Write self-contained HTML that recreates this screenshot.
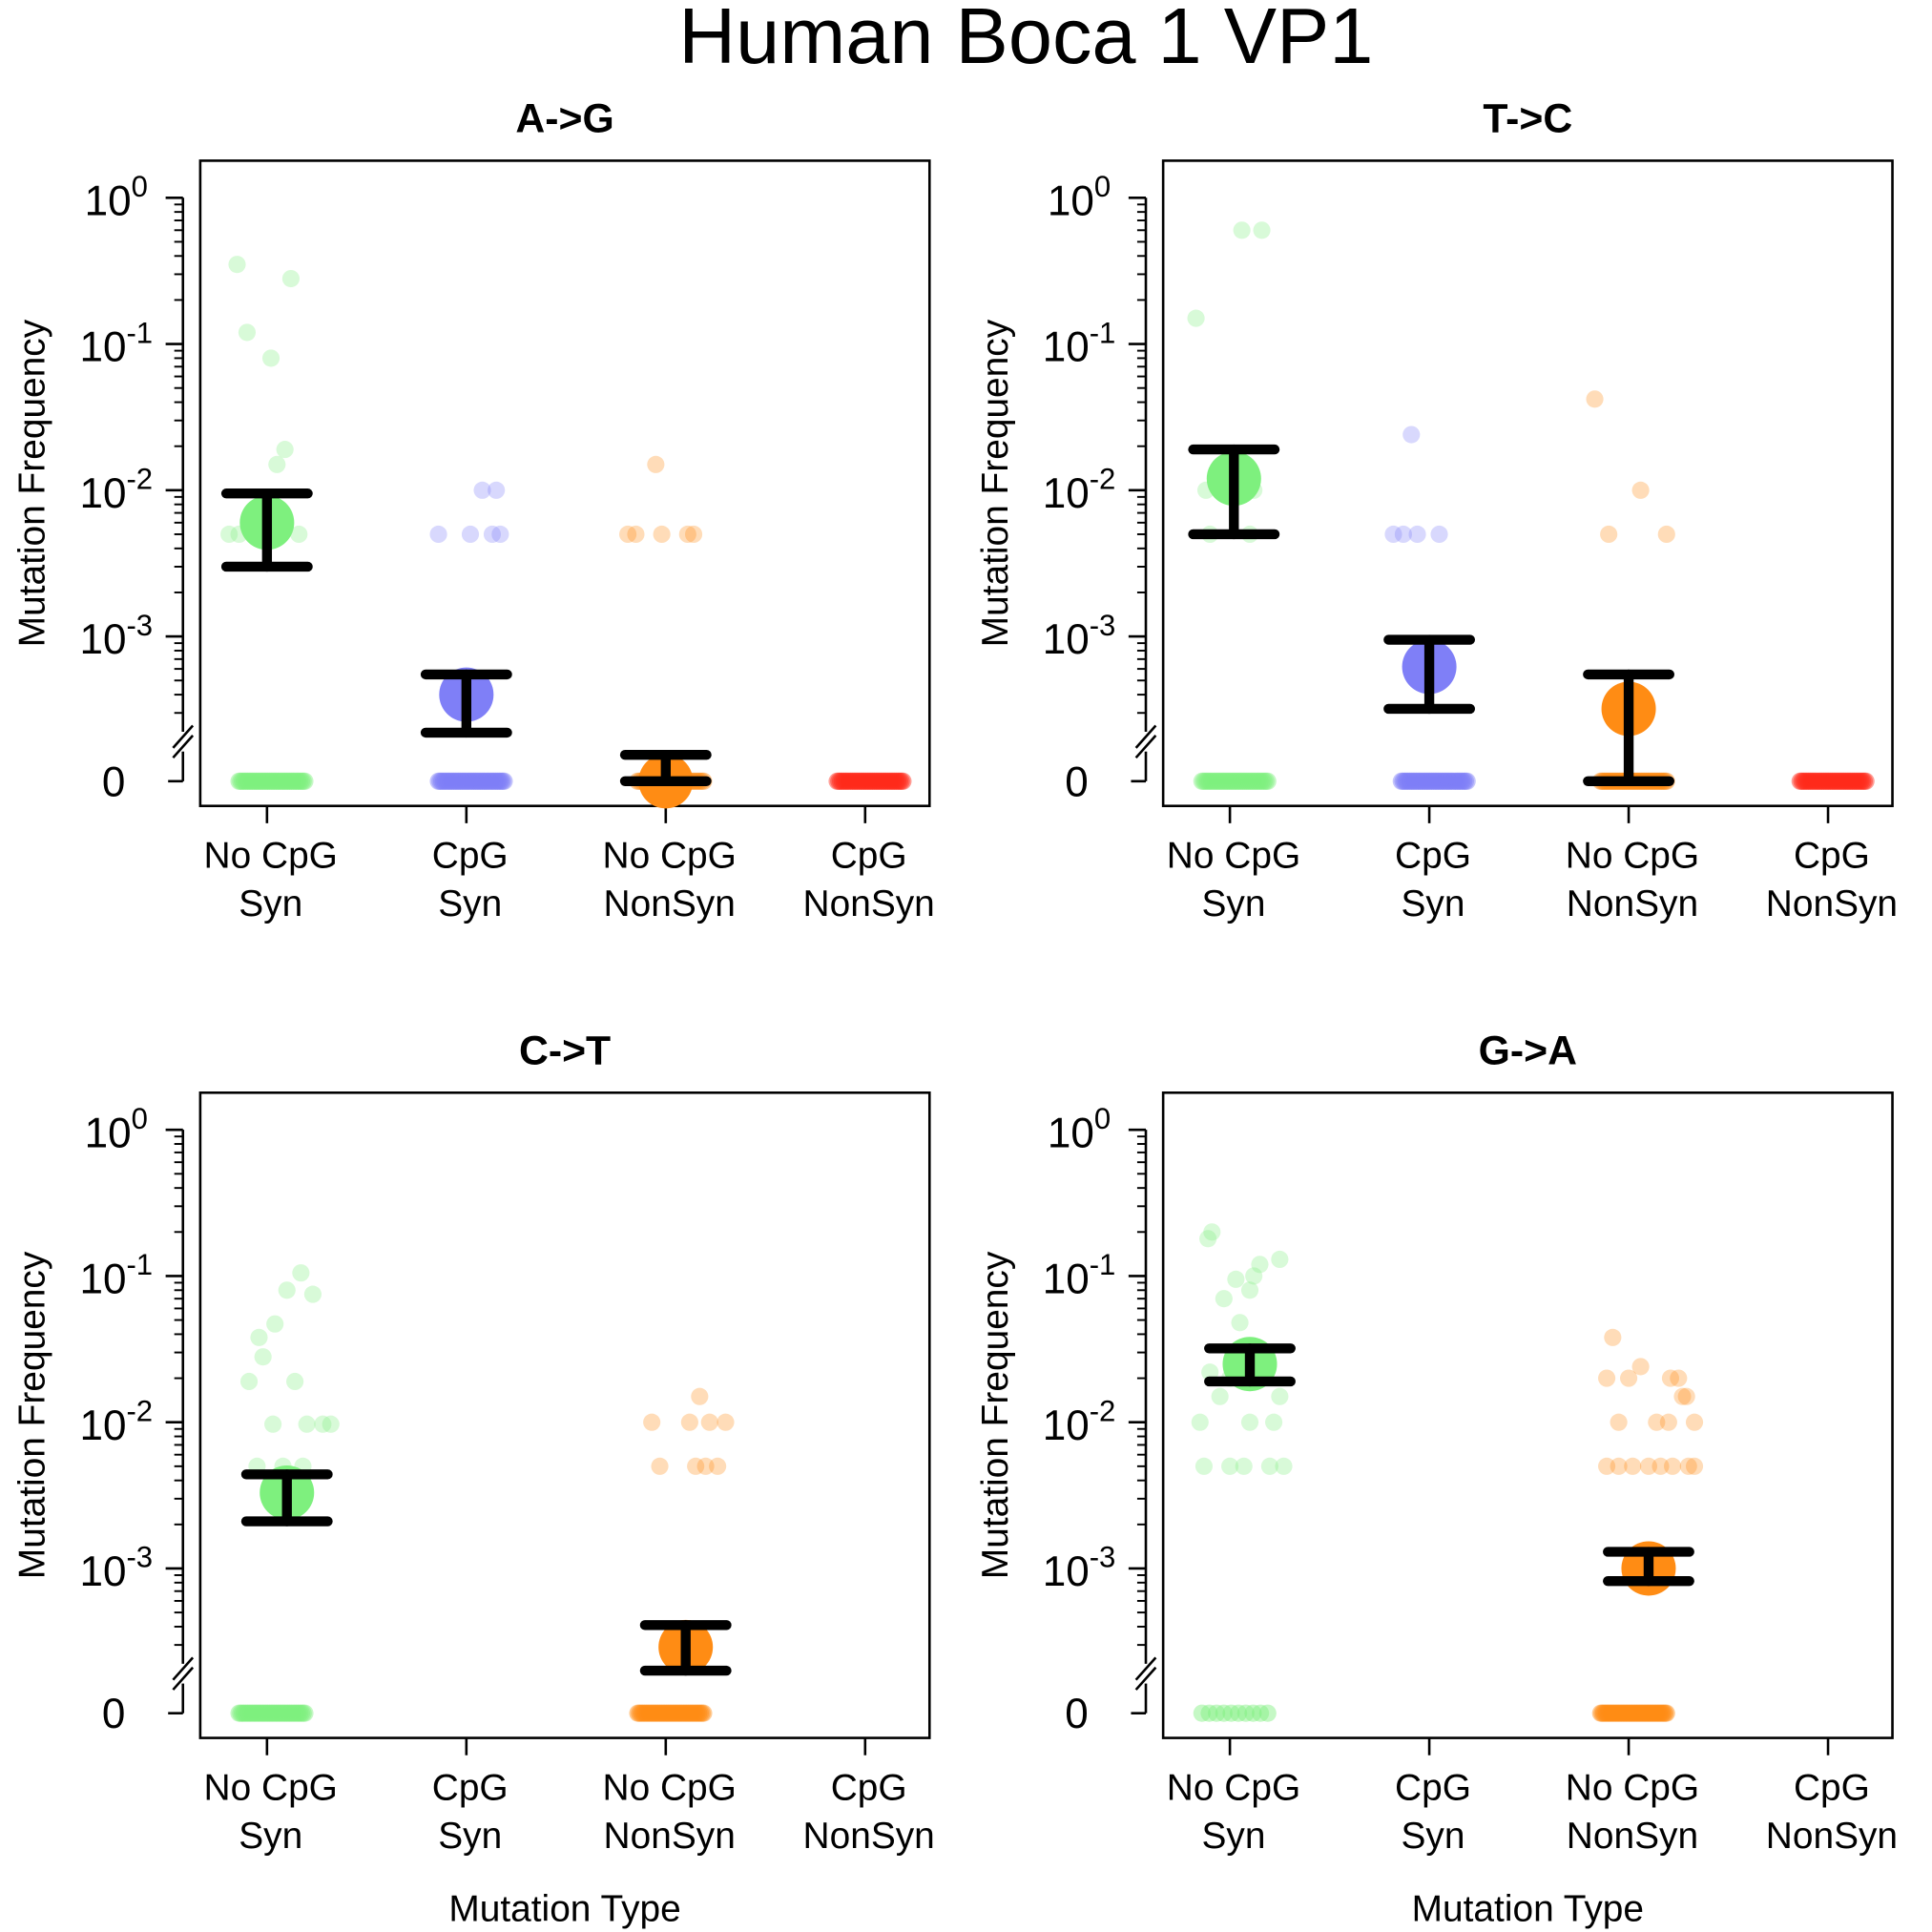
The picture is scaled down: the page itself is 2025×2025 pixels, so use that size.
<!DOCTYPE html>
<html><head><meta charset="utf-8">
<style>
html,body{margin:0;padding:0;background:#fff;}
svg{display:block;font-family:"Liberation Sans",Arial,sans-serif;}
</style></head>
<body>
<svg id="chart" width="2025" height="2025" viewBox="0 0 1563 1563" xmlns="http://www.w3.org/2000/svg">
<text x="830" y="51" font-size="64" text-anchor="middle">Human Boca 1 VP1</text>
</svg>
<script>
// ---- data ----
const categories = ["No CpG|Syn","CpG|Syn","No CpG|NonSyn","CpG|NonSyn"];
const panelTitles = ["A->G","T->C","C->T","G->A"];
const tickExps = [0,-1,-2,-3];
const ptVals = [
 [[0.35,0.12,0.08,0.28,0.019,0.015,0.005,0.005,0.005],[0.005,0.005,0.005,0.005,0.01,0.01],[0.015,0.005,0.005,0.005,0.005,0.005],[]],
 [[0.6,0.6,0.15,0.01,0.01,0.01,0.005,0.005],[0.024,0.005,0.005,0.005,0.005],[0.042,0.01,0.005,0.005],[]],
 [[0.105,0.08,0.075,0.038,0.047,0.028,0.019,0.019,0.0097,0.0097,0.0097,0.0097,0.005,0.005,0.005],[],[0.015,0.01,0.01,0.01,0.01,0.005,0.005,0.005,0.005],[]],
 [[0.2,0.18,0.13,0.12,0.095,0.1,0.08,0.07,0.048,0.022,0.02,0.015,0.015,0.01,0.01,0.01,0.005,0.005,0.005,0.005,0.005],[],[0.038,0.024,0.02,0.02,0.02,0.02,0.015,0.015,0.01,0.01,0.01,0.01,0.005,0.005,0.005,0.005,0.005,0.005,0.005,0.005],[]]
];
const ptJit = [
 [[-0.15,-0.1,0.02,0.12,0.09,0.05,-0.19,-0.14,0.16],[-0.14,0.02,0.13,0.17,0.08,0.15],[-0.05,-0.19,-0.15,-0.02,0.11,0.14],[]],
 [[0.06,0.16,-0.17,-0.12,0.05,0.12,-0.1,0.1],[-0.09,-0.18,-0.13,-0.06,0.05],[-0.17,0.06,-0.1,0.19],[]],
 [[0.17,0.1,0.23,-0.04,0.04,-0.02,-0.09,0.14,0.03,0.2,0.28,0.32,-0.05,0.08,0.18],[],[0.17,-0.07,0.12,0.22,0.3,-0.03,0.15,0.2,0.26],[]],
 [[-0.09,-0.11,0.25,0.15,0.03,0.12,0.1,-0.03,0.05,-0.1,0.0,-0.05,0.25,-0.15,0.1,0.22,-0.13,0.0,0.07,0.2,0.27],[],[-0.08,0.06,-0.11,0.0,0.21,0.25,0.27,0.29,-0.05,0.14,0.2,0.33,-0.11,-0.05,0.02,0.1,0.16,0.22,0.3,0.33],[]]
];
const zeroCounts = [[40,40,30,40],[35,40,40,40],[40,0,40,0],[10,0,45,0]];
const means = [[0.006,0.0004,0,null],[0.012,0.00062,0.00032,null],[0.0033,null,0.00029,null],[0.025,null,0.001,null]];
const ciLow = [[0.003,0.00022,0,null],[0.005,0.00032,0,null],[0.0021,null,0.0002,null],[0.019,null,0.00082,null]];
const ciHigh = [[0.0095,0.00055,0.000155,null],[0.019,0.00095,0.00055,null],[0.0044,null,0.00041,null],[0.032,null,0.0013,null]];
const meanShift = [[0,0,0,0],[0.02,0,0,0],[0.1,0,0.1,0],[0.1,0,0.1,0]];
const colors = ["#7ef07e","#7f7ff7","#ff8c14","#ff2a1a"];
// ---- layout ----
const svg = document.getElementById('chart');
const NS = "http://www.w3.org/2000/svg";
function mk(tag, attrs, parent){const e=document.createElementNS(NS,tag);for(const k in attrs)e.setAttribute(k,attrs[k]);(parent||svg).appendChild(e);return e;}
const panels=[{x:162,y:130},{x:941,y:130},{x:162,y:884},{x:941,y:884}];
const W=590,H=522;
panels.forEach((p,pi)=>{
  const g=mk('g',{});
  
  
  const yTop=p.y+30, dec=118.3, yZero=p.y+502;
  const ys=v=> v<=1e-4 ? yZero : yTop - Math.log10(v)*dec;
  const xs=i=> p.x+54+i*161.3;
  const t=mk('text',{x:p.x+295,y:p.y-23,'font-size':33,'font-weight':'bold','text-anchor':'middle'},g);
  t.textContent=panelTitles[pi];
  
  
  const box=mk('rect',{x:p.x,y:p.y,width:W,height:H,fill:'none',stroke:'#000','stroke-width':2},g);
  
  
  const ax=p.x-14;
  mk('line',{x1:ax,y1:yTop,x2:ax,y2:p.y+462,stroke:'#000','stroke-width':2},g);
  mk('line',{x1:ax-8,y1:p.y+475,x2:ax+8,y2:p.y+457,stroke:'#000','stroke-width':2},g);
  mk('line',{x1:ax-8,y1:p.y+483,x2:ax+8,y2:p.y+465,stroke:'#000','stroke-width':2},g);
  mk('line',{x1:ax,y1:p.y+478,x2:ax,y2:yZero,stroke:'#000','stroke-width':2},g);
  mk('line',{x1:ax,y1:yZero,x2:ax-12,y2:yZero,stroke:'#000','stroke-width':2},g);
  const z=mk('text',{x:p.x-70,y:yZero+12,'font-size':34,'text-anchor':'middle'},g);z.textContent='0';
  
  
  tickExps.forEach(e=>{
    const y=ys(Math.pow(10,e));
    mk('line',{x1:ax,y1:y,x2:ax-14,y2:y,stroke:'#000','stroke-width':2},g);
    for(let m=2;m<=9;m++){const v=m*Math.pow(10,e-1);const yy=ys(v);if(yy>p.y+460)continue;
      mk('line',{x1:ax,y1:yy,x2:ax-7,y2:yy,stroke:'#000','stroke-width':1.5},g);}
    const tl=mk('text',{x:p.x-68,y:y+14,'font-size':34,'text-anchor':'middle'},g);
    
    
    tl.innerHTML='10<tspan dy="-15" font-size="24">'+e+'</tspan>';
  });
  const yl=mk('text',{x:0,y:0,'font-size':30,'text-anchor':'middle',transform:`translate(${p.x-126},${p.y+261}) rotate(-90)`},g);
  yl.textContent='Mutation Frequency';
  
  
  categories.forEach((c,ci)=>{
    const x=xs(ci);
    mk('line',{x1:x,y1:p.y+H,x2:x,y2:p.y+H+14,stroke:'#000','stroke-width':2},g);
    const parts=c.split('|');
    parts.forEach((s,si)=>{const tt=mk('text',{x:x+3,y:p.y+H+50+si*39,'font-size':30,'text-anchor':'middle'},g);tt.textContent=s;
      
      });
    const n=zeroCounts[pi][ci];
    for(let k=0;k<n;k++){const dx=-0.3+0.6*(n>1?k/(n-1):0.5);
      const d=mk('circle',{cx:x+dx*161.3*0.55+4,cy:yZero,r:7,fill:colors[ci],'fill-opacity':0.45},g);
      
      }
    ptVals[pi][ci].forEach((v,k)=>{
      const d=mk('circle',{cx:x+ptJit[pi][ci][k]*161.3,cy:ys(v),r:7,fill:colors[ci],'fill-opacity':0.3},g);
      
      
    });
    const mv=means[pi][ci];
    if(mv!==null){
      const mx=x+meanShift[pi][ci]*161.3;
      const mc=mk('circle',{cx:mx,cy:ys(mv),r:22,fill:colors[ci]},g);
      
      
      const y1=ys(ciLow[pi][ci]), y2=ys(ciHigh[pi][ci]);
      const eb=mk('g',{stroke:'#000','stroke-width':8,'stroke-linecap':'round'},g);
      
      
      mk('line',{x1:mx,y1:y1,x2:mx,y2:y2},eb);
      mk('line',{x1:mx-33,y1:y1,x2:mx+33,y2:y1},eb);
      mk('line',{x1:mx-33,y1:y2,x2:mx+33,y2:y2},eb);
    }
  });
  if(pi>=2){const xt=mk('text',{x:p.x+295,y:p.y+H+148,'font-size':30,'text-anchor':'middle'},g);xt.textContent='Mutation Type';
    
    }
});
</script>
</body></html>
